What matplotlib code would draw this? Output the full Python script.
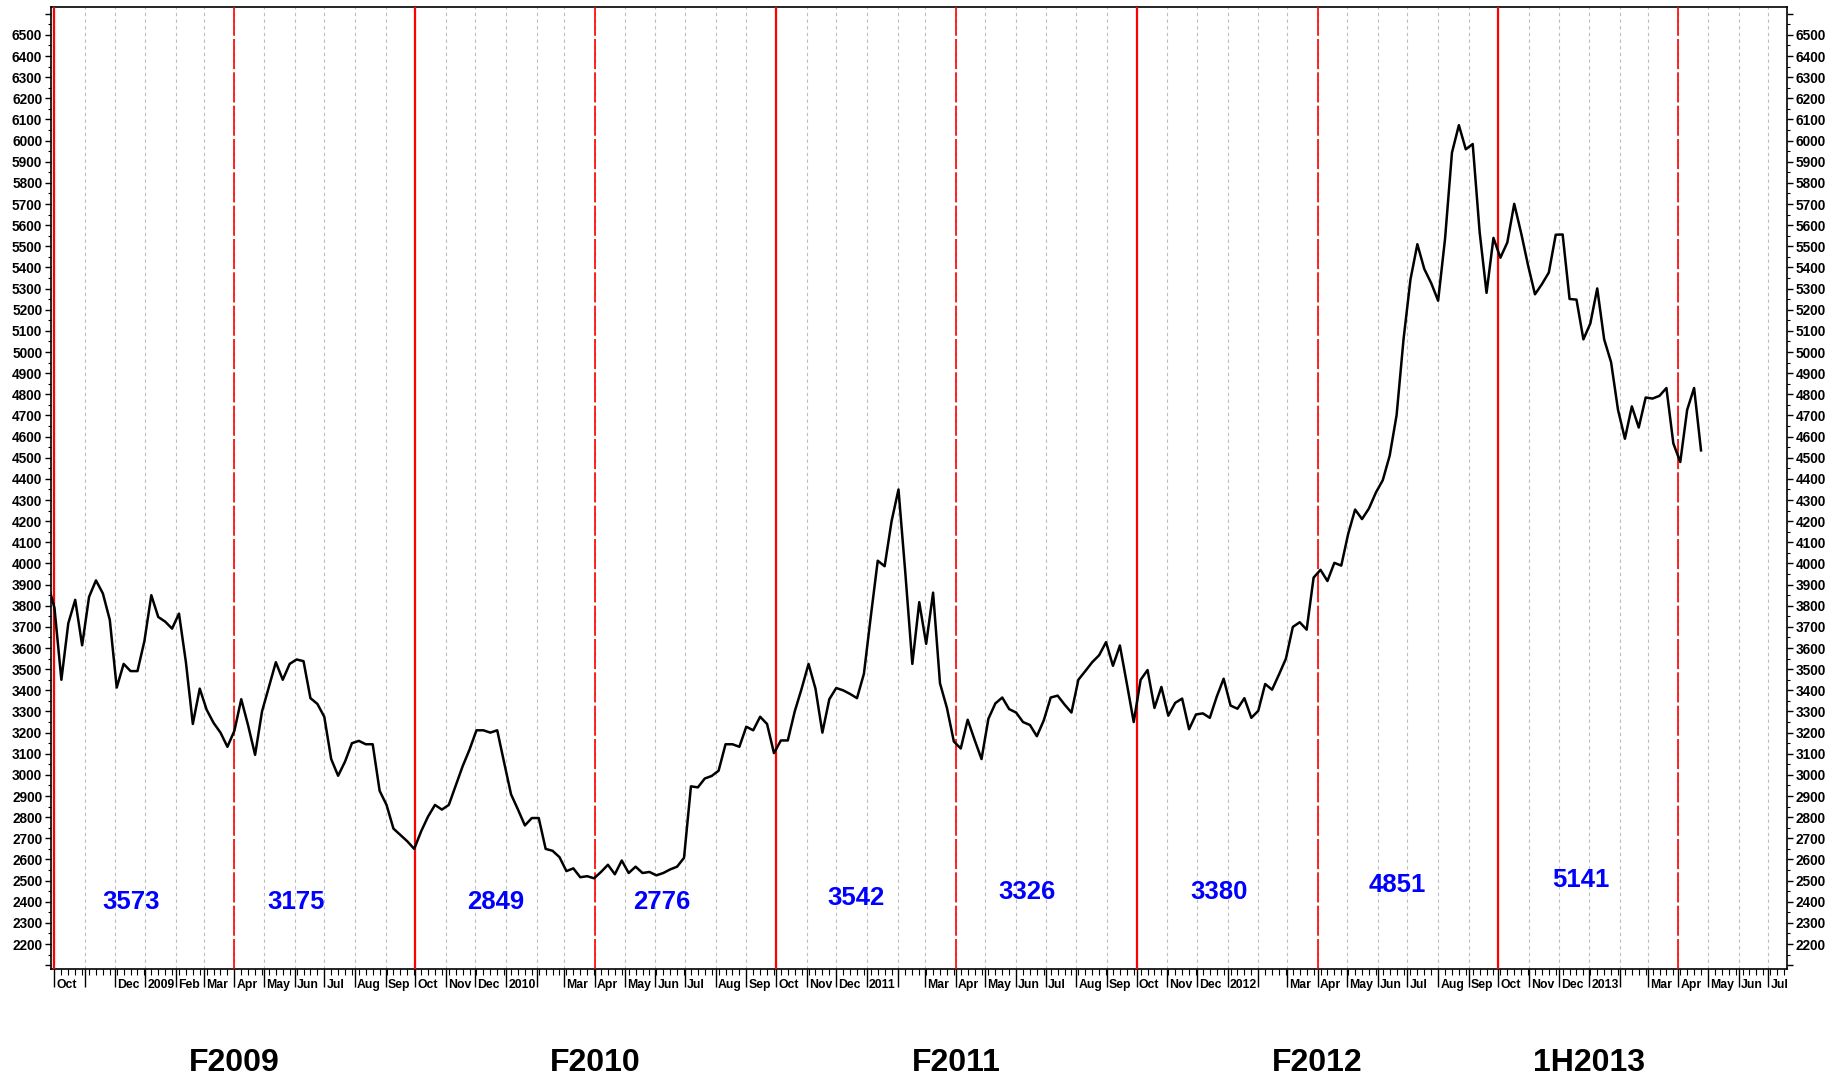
import numpy as np
import pandas as pd
import matplotlib

matplotlib.use("Agg")
import matplotlib.pyplot as plt
import matplotlib.dates as mdates
import matplotlib.transforms as mtransforms
from matplotlib.ticker import MultipleLocator

plt.rcParams["font.family"] = ["Liberation Sans", "DejaVu Sans"]
plt.rcParams["font.weight"] = "bold"

# weekly closes, first week ends 2008-09-24
first_week = "2008-09-24"
prices = [
    3910, 3790, 3450, 3717, 3828, 3613, 3842, 3920, 3858, 3733,
    3413, 3525, 3491, 3491, 3633, 3850, 3747, 3725, 3692, 3763,
    3533, 3241, 3408, 3308, 3246, 3200, 3133, 3208, 3358, 3233,
    3095, 3300, 3417, 3533, 3450, 3525, 3546, 3538, 3363, 3336,
    3275, 3075, 2996, 3063, 3150, 3161, 3145, 3145, 2925, 2858,
    2746, 2716, 2686, 2650, 2733, 2803, 2858, 2836, 2858, 2950,
    3041, 3120, 3211, 3211, 3200, 3211, 3058, 2908, 2836, 2761,
    2796, 2796, 2650, 2641, 2611, 2545, 2558, 2516, 2521, 2511,
    2541, 2575, 2530, 2595, 2536, 2566, 2536, 2541, 2525, 2536,
    2553, 2566, 2608, 2946, 2941, 2983, 2995, 3020, 3145, 3145,
    3133, 3228, 3211, 3275, 3241, 3103, 3163, 3163, 3300, 3408,
    3525, 3408, 3200, 3358, 3411, 3400, 3383, 3363, 3478, 3750,
    4013, 3987, 4200, 4350, 3950, 3525, 3817, 3620, 3862, 3433,
    3317, 3158, 3125, 3261, 3166, 3075, 3266, 3338, 3366, 3311,
    3295, 3250, 3236, 3183, 3258, 3366, 3375, 3333, 3295, 3450,
    3491, 3533, 3566, 3628, 3516, 3612, 3433, 3250, 3450, 3496,
    3317, 3416, 3280, 3341, 3361, 3216, 3286, 3291, 3270, 3370,
    3455, 3328, 3313, 3363, 3270, 3303, 3430, 3403, 3475, 3550,
    3700, 3722, 3687, 3933, 3970, 3917, 4003, 3990, 4140, 4255,
    4210, 4260, 4335, 4394, 4510, 4702, 5060, 5343, 5510, 5393,
    5326, 5243, 5535, 5943, 6073, 5959, 5984, 5568, 5280, 5540,
    5446, 5518, 5701, 5563, 5410, 5273, 5321, 5376, 5555, 5556,
    5251, 5248, 5060, 5135, 5301, 5060, 4952, 4727, 4590, 4743,
    4643, 4785, 4780, 4793, 4830, 4568, 4480, 4727, 4830, 4535,
]

# half-year averages written on the chart
avg_texts = ["3573", "3175", "2849", "2776", "3542", "3326", "3380", "4851", "5141"]
avg_dates = ["2008-12-18", "2009-06-03", "2009-12-21", "2010-06-07", "2010-12-21",
             "2011-06-12", "2011-12-23", "2012-06-21", "2012-12-23"]
avg_levels = [2400, 2400, 2400, 2400, 2418, 2444, 2447, 2480, 2505]

period_names = ["F2009", "F2010", "F2011", "F2012", "1H2013"]
period_dates = ["2009-04-01", "2010-04-01", "2011-04-01", "2012-04-01", "2013-01-01"]

year_starts = ["2008-10-01", "2009-10-01", "2010-10-01", "2011-10-01", "2012-10-01"]
half_starts = ["2009-04-01", "2010-04-01", "2011-04-01", "2012-04-01", "2013-04-01"]

unlabelled_months = ["2008-11", "2010-02", "2011-02", "2012-02", "2013-02"]
ytick_values = list(range(2100, 6700, 100))

fig = plt.figure(figsize=(18.33, 10.78), dpi=100)
ax = fig.add_axes([51 / 1833, 109 / 1078, 1736 / 1833, 962 / 1078])

dates = pd.date_range(first_week, periods=len(prices), freq="7D")
ax.plot(dates, prices, color="black", lw=1.8, zorder=4)

for d in year_starts:
    ax.axvline(pd.Timestamp(d), color="red", lw=1.6, zorder=3)
for d in half_starts:
    ax.axvline(pd.Timestamp(d), color="red", lw=1.2, dashes=(18, 2), zorder=3)

ax.set_xlim(pd.Timestamp("2008-09-27 12:00"), pd.Timestamp("2013-07-20"))
ax.set_ylim(2082, 6632)

# month ticks with labels to the right of the tick
months = pd.date_range("2008-10-01", "2013-07-01", freq="MS")
month_labels = []
for m in months:
    if m.strftime("%Y-%m") in unlabelled_months:
        month_labels.append("")
    elif m.month == 1:
        month_labels.append(str(m.year))
    else:
        month_labels.append(m.strftime("%b"))
ax.set_xticks(mdates.date2num(months))
ax.set_xticklabels(month_labels)
ax.xaxis.set_minor_locator(mdates.WeekdayLocator(byweekday=mdates.WE))
ax.tick_params(axis="x", which="major", length=13, width=1, pad=-6, labelsize=8.8)
ax.tick_params(axis="x", which="minor", length=4.3, width=0.8)
shift = mtransforms.ScaledTranslation(1.5 / 72, 0, fig.dpi_scale_trans)
for lab in ax.get_xticklabels():
    lab.set_horizontalalignment("left")
    lab.set_transform(lab.get_transform() + shift)

ax.grid(axis="x", which="major", color="#bdbdbd", lw=0.8, linestyle=(0, (3, 3)))

ax.set_yticks(ytick_values)
ax.set_yticklabels(["" if v in (2100, 6600) else str(v) for v in ytick_values])
ax.yaxis.set_minor_locator(MultipleLocator(50))
ax.tick_params(axis="y", which="both", left=True, right=True, labelleft=True, labelright=True)
ax.tick_params(axis="y", which="major", length=4.3, width=1, pad=2, labelsize=9.8)
ax.tick_params(axis="y", which="minor", length=2.2, width=0.8)

for s in ax.spines.values():
    s.set_linewidth(1.2)

for txt, d, lvl in zip(avg_texts, avg_dates, avg_levels):
    ax.text(pd.Timestamp(d), lvl, txt, color="blue", fontsize=18.5,
            ha="center", va="center", zorder=5)

trans = mtransforms.blended_transform_factory(ax.transData, fig.transFigure)
for name, d in zip(period_names, period_dates):
    ax.text(mdates.date2num(pd.Timestamp(d)), 15 / 1078, name, transform=trans,
            fontsize=23, ha="center", va="center", clip_on=False)

fig.savefig("out.png", dpi=100)
